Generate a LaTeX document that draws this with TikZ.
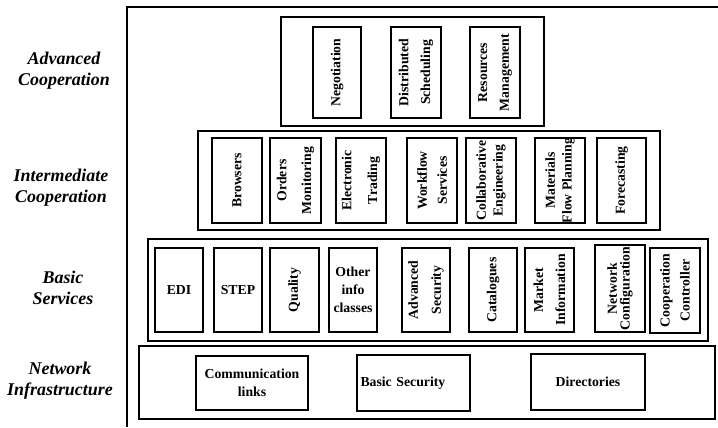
\documentclass[tikz,border=0pt]{standalone}
\usepackage{fontspec}
\setmainfont{Liberation Serif}
\begin{document}
\begin{tikzpicture}[x=1bp,y=-1bp,
  frame/.style={line width=1.5bp},
  layer/.style={draw, line width=1.4bp, inner sep=0pt},
  item/.style={draw, line width=1.4bp, inner sep=0pt, align=center,
    font=\fontsize{13.8}{15}\selectfont\bfseries},
  vitem/.style={item, rotate=90},
  tier/.style={align=center, font=\fontsize{18}{21}\selectfont\bfseries\itshape}]
\useasboundingbox (0,0) rectangle (718,427);

% outer frame (left and top sides)
\coordinate (fbl) at (127,427);
\coordinate (ftr) at (718,7);
\draw[frame] (fbl) |- (ftr);

% tier labels
\node[tier] (tadv) at (64,71) {Advanced\\Cooperation};
\node[tier] (tint) at (61,188) {Intermediate\\Cooperation};
\node[tier] (tbas) at (63,287.5) {Basic\\Services};
\node[tier] (tnet) at (60,381) {Network\\Infrastructure};

% tier containers
\node[layer, minimum width=263bp, minimum height=109bp] (adv) at (412.5,71.5) {};
\node[layer, minimum width=462bp, minimum height=99bp] (int) at (429,180.5) {};
\node[layer, minimum width=560bp, minimum height=102bp] (bas) at (428,290) {};
\node[layer, minimum width=576bp, minimum height=73bp] (net) at (427,382.5) {};

% advanced cooperation
\node[vitem, minimum width=91bp, minimum height=48bp] (neg) at (337,72.5) {Negotiation};
\node[vitem, minimum width=91bp, minimum height=50bp] (dsch) at (416,72.5) {Distributed\\[7bp]Scheduling};
\node[vitem, minimum width=91bp, minimum height=50bp] (rmgt) at (495,72.5) {Resources\\[7bp]Management};

% intermediate cooperation
\node[vitem, minimum width=85bp, minimum height=50bp] (brow) at (237,180.5) {Browsers};
\node[vitem, minimum width=85bp, minimum height=51bp] (ordm) at (295.5,180.5) {Orders\\[10bp]Monitoring};
\node[vitem, minimum width=85bp, minimum height=50bp] (elec) at (361,180.5) {Electronic\\[11bp]Trading};
\node[vitem, minimum width=85bp, minimum height=50bp] (wflw) at (432,180.5) {Workflow\\[5bp]Services};
\node[vitem, minimum width=85bp, minimum height=50bp] (coll) at (491,180.5) {Collaborative\\[2bp]Engineering};
\node[vitem, minimum width=85bp, minimum height=50bp] (matf) at (560,180.5) {Materials\\[2bp]Flow Planning};
\node[vitem, minimum width=85bp, minimum height=49bp] (fcst) at (621.5,180.5) {Forecasting};

% basic services
\node[item, minimum width=48bp, minimum height=84bp] (edi) at (179,290) {EDI};
\node[item, minimum width=48bp, minimum height=84bp] (step1) at (238,290) {STEP};
\node[vitem, minimum width=84bp, minimum height=49bp] (qual) at (294.5,290) {Quality};
\node[item, minimum width=48bp, minimum height=84bp] (oinf) at (353,290) {Other\\[3bp]info\\[3bp]classes};
\node[vitem, minimum width=84bp, minimum height=48bp] (asec) at (426,290) {Advanced\\[8bp]Security};
\node[vitem, minimum width=84bp, minimum height=48bp] (catl) at (493,290) {Catalogues};
\node[vitem, minimum width=84bp, minimum height=49bp] (mkti) at (549.5,290) {Market\\[7bp]Information};
\node[vitem, minimum width=87bp, minimum height=50bp] (ncfg) at (620,288.5) {Network\\[-2bp]Configuration};
\node[vitem, minimum width=85bp, minimum height=50bp] (cctl) at (675,290.5) {Cooperation\\[5bp]Controller};

% network infrastructure
\node[item, minimum width=112bp, minimum height=54bp] (comm) at (252,383) {Communication\\[3bp]links};
\node[item, minimum width=113bp, minimum height=56bp, text width=106bp, align=left] (bsec) at (413.5,383) {Basic Security};
\node[item, minimum width=114bp, minimum height=56bp] (dirs) at (588,382) {Directories};
\end{tikzpicture}
\end{document}
